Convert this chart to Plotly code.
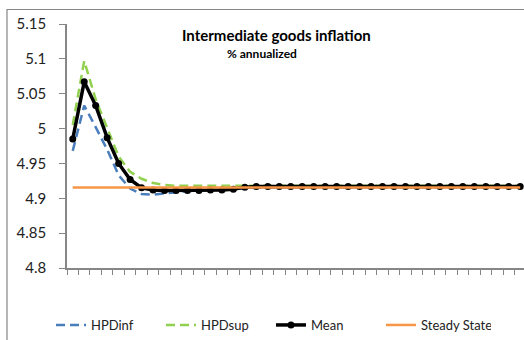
import plotly.graph_objects as go

periods = list(range(1, 41))
hpd_inf = [4.968, 5.033, 5.002, 4.970, 4.933, 4.914, 4.906, 4.905, 4.907, 4.909,
           4.910, 4.911, 4.912, 4.913, 4.913, 4.914, 4.915, 4.915, 4.916, 4.916] + [4.916] * 20
hpd_sup = [5.005, 5.097, 5.042, 5.000, 4.960, 4.938, 4.928, 4.922, 4.919, 4.918] + [4.918] * 30
mean = [4.985, 5.067, 5.033, 4.987, 4.950, 4.927, 4.915, 4.912, 4.911, 4.911,
        4.911, 4.911, 4.912, 4.912, 4.913, 4.916] + [4.917] * 24
steady = [4.9155] * 40

y_ticks = [4.8, 4.85, 4.9, 4.95, 5.0, 5.05, 5.1, 5.15]
y_labels = ["4.8", "4.85", "4.9", "4.95", "5", "5.05", "5.1", "5.15"]

FONT = "Lato, 'Open Sans', sans-serif"
GRAY = "#868686"

x = list(range(len(periods)))

fig = go.Figure()
fig.add_trace(go.Scatter(x=x, y=hpd_inf, name="HPDinf", mode="lines",
                         line=dict(color="#4A7EBB", width=2.5, dash="9px,5px")))
fig.add_trace(go.Scatter(x=x, y=hpd_sup, name="HPDsup", mode="lines",
                         line=dict(color="#92D050", width=2.5, dash="9px,5px")))
fig.add_trace(go.Scatter(x=x, y=mean, name="Mean", mode="lines+markers",
                         line=dict(color="black", width=3.5),
                         marker=dict(color="black", size=7, symbol="circle")))
fig.add_trace(go.Scatter(x=x, y=steady, name="Steady State", mode="lines",
                         line=dict(color="#F79646", width=2.5)))

fig.update_layout(
    width=524, height=340,
    margin=dict(l=67, r=0, t=24, b=72),
    paper_bgcolor="white", plot_bgcolor="white",
    font=dict(family=FONT, size=14, color="#222222"),
    showlegend=True,
    legend=dict(orientation="h", x=-0.035, y=-0.236, xanchor="left", yanchor="middle",
                font=dict(size=13), entrywidth=65, itemwidth=30, tracegroupgap=0),
    xaxis=dict(range=[-0.5, 39.33], showgrid=False, zeroline=False,
               showline=True, linecolor=GRAY, linewidth=1.5,
               tickmode="array", tickvals=[i - 0.5 for i in range(41)],
               ticks="outside", ticklen=5, tickcolor=GRAY, showticklabels=False),
    yaxis=dict(range=[4.8, 5.15], showgrid=False, zeroline=False,
               showline=True, linecolor=GRAY, linewidth=1.5,
               tickmode="array", tickvals=y_ticks, ticktext=y_labels,
               ticks="outside", ticklen=6, tickcolor=GRAY,
               tickfont=dict(size=15, color="#222222"), ticklabelstandoff=10),
    annotations=[
        dict(text="<b>Intermediate goods inflation</b>", xref="paper", yref="paper",
             x=0.4595, y=0.953, xanchor="center", yanchor="middle", showarrow=False,
             font=dict(size=15, family=FONT, color="black")),
        dict(text="<b>% annualized</b>", xref="paper", yref="paper",
             x=0.4267, y=0.879, xanchor="center", yanchor="middle", showarrow=False,
             font=dict(size=12, family=FONT, color="black")),
    ],
    shapes=[
        dict(type="rect", xref="paper", yref="paper", x0=-0.1313, x1=1.3, y0=-0.6, y1=1.0594,
             line=dict(color=GRAY, width=1.2), fillcolor="rgba(0,0,0,0)", layer="below"),
    ],
)

fig.write_html("out.html")
